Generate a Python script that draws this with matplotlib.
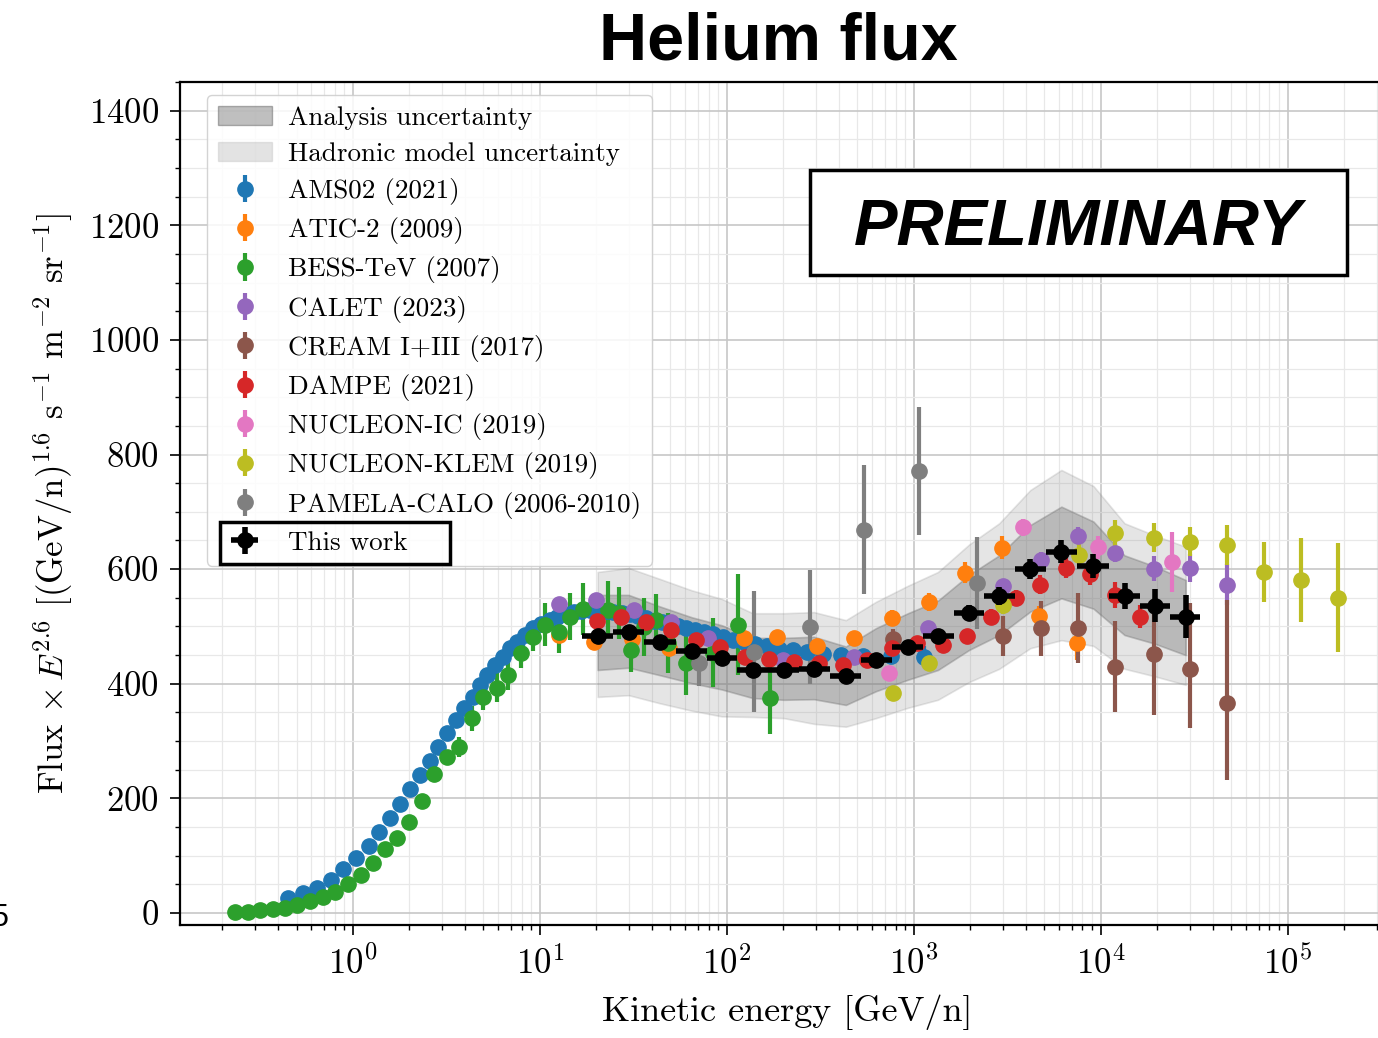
import numpy as np
import matplotlib
matplotlib.use("Agg")
import matplotlib.pyplot as plt
from matplotlib.patches import Patch, Rectangle
from matplotlib.ticker import LogLocator, MultipleLocator, NullFormatter

# ---- data (E in GeV/n, flux x E^2.6) ----
ams_E = [0.450, 0.542, 0.644, 0.766, 0.887, 1.04, 1.22, 1.38, 1.59, 1.79,
         2.03, 2.30, 2.60, 2.86, 3.20, 3.58, 3.95, 4.41, 4.81, 5.24,
         5.79, 6.38, 6.97, 7.59, 8.38, 9.25, 10.2, 11.3, 12.4, 13.7,
         15.2, 16.7, 18.5, 20.4, 22.5, 24.8, 27.4, 30.3, 33.4, 36.8,
         40.7, 44.9, 49.6, 54.7, 60.4, 67.5, 75.4, 84.3, 95.3, 108,
         124, 142, 164, 190, 226, 269, 328, 409, 537, 759, 1140]
ams_F = [26, 35, 44, 58, 77, 96, 117, 141, 166, 190,
         216, 241, 265, 290, 314, 337, 358, 377, 398, 415,
         433, 447, 462, 473, 485, 497, 505, 512, 517, 522,
         525, 527, 528, 528, 527, 526, 524, 521, 518, 514,
         510, 507, 504, 501, 498, 494, 490, 486, 481, 477,
         473, 469, 465, 461, 458, 455, 452, 450, 449, 448, 447]
ams_err = [1, 1, 1, 1, 1, 1, 1, 1, 2, 2,
           2, 2, 2, 2, 3, 3, 3, 3, 3, 3,
           3, 3, 3, 3, 3, 3, 3, 3, 3, 3,
           3, 3, 3, 3, 3, 3, 3, 3, 3, 3,
           3, 3, 4, 4, 4, 4, 4, 4, 5, 5,
           5, 6, 6, 7, 7, 8, 9, 10, 12, 14, 18]

atic_E = [12.6, 19.4, 31.0, 49.0, 124, 185, 304, 480, 767, 1211, 1889, 2980, 4710, 7520]
atic_F = [485, 473, 478, 462, 480, 482, 465, 480, 515, 543, 594, 637, 518, 471]
atic_err = [8, 8, 8, 8, 10, 10, 12, 12, 14, 16, 18, 20, 17, 29]

bess_E = [0.234, 0.275, 0.319, 0.374, 0.434, 0.502, 0.589, 0.691, 0.803, 0.944,
          1.11, 1.285, 1.49, 1.73, 2.00, 2.35, 2.73, 3.20, 3.71, 4.36,
          4.99, 5.93, 6.80, 7.98, 9.25, 10.7, 12.6, 14.6, 17.0, 23.1,
          26.4, 30.6, 36.0, 41.7, 48.3, 60.4, 84.3, 115, 170]
bess_F = [2, 2, 5, 7, 9, 14, 21, 28, 37, 51,
          66, 87, 111, 131, 159, 196, 242, 272, 290, 340,
          377, 393, 415, 453, 482, 503, 491, 517, 530, 529,
          523, 459, 499, 511, 471, 436, 454, 503, 375]
bess_err = [1, 1, 1, 1, 1, 1, 2, 2, 2, 3,
            3, 4, 5, 6, 7, 9, 11, 13, 17, 22,
            23, 25, 26, 26, 25, 38, 38, 41, 45, 50,
            45, 38, 50, 45, 52, 55, 60, 88, 63]

calet_E = [12.7, 19.9, 31.8, 50.2, 79.2, 200, 480, 1197, 3020, 4820, 7600, 12000, 19200, 30000, 47300]
calet_F = [539, 546, 529, 508, 480, 441, 447, 497, 570, 616, 658, 628, 601, 602, 573]
calet_err = [6, 6, 6, 6, 7, 8, 9, 10, 12, 14, 15, 15, 22, 24, 36]

cream_E = [778, 3020, 4820, 7600, 12000, 19200, 30000, 47300]
cream_F = [478, 484, 497, 497, 430, 452, 426, 366]
cream_lo = [18, 35, 48, 61, 80, 106, 103, 134]
cream_hi = [18, 35, 48, 61, 80, 95, 115, 180]

dampe_E = [20.2, 27.1, 36.9, 50.2, 68.4, 91.9, 125, 168, 229, 312, 419, 564,
           768, 1045, 1440, 1935, 2604, 3546, 4764, 6566, 8832, 11880, 16180]
dampe_F = [510, 517, 508, 494, 476, 464, 447, 443, 438, 436, 433, 441,
           462, 471, 468, 483, 517, 550, 573, 602, 592, 555, 517]
dampe_err = [6, 6, 6, 6, 6, 6, 7, 7, 8, 8, 9, 10,
             11, 12, 12, 13, 13, 14, 16, 17, 20, 23, 20]

nic_E = [741, 3860, 9640, 24000]
nic_F = [419, 673, 638, 612]
nic_err = [12, 15, 20, 52]

klem_E = [778, 1211, 3020, 7710, 11880, 19200, 30000, 47300, 74800, 118000, 186000]
klem_F = [384, 436, 538, 625, 663, 655, 648, 642, 595, 581, 550]
klem_err = [12, 14, 16, 20, 23, 25, 25, 35, 52, 73, 95]

pamela_E = [70.9, 140, 279, 543, 1070, 2170]
pamela_F = [436, 456, 499, 669, 771, 576]
pamela_err = [40, 105, 100, 112, 112, 80]

work_E = [20.4, 29.9, 43.8, 65.0, 94.2, 138, 202, 293, 434, 629,
          932, 1349, 1981, 2869, 4209, 6170, 9160, 13430, 19460, 28530]
work_edges = [16.8, 24.7, 36.2, 53.4, 78.2, 114, 167, 243, 357, 522, 766,
              1121, 1635, 2384, 3475, 5096, 7518, 11090, 16170, 23560, 34000]
work_F = [483, 490, 473, 457, 445, 424, 424, 426, 413, 441,
          464, 483, 523, 553, 600, 630, 605, 553, 536, 517]
work_err = [8, 8, 8, 8, 8, 8, 8, 9, 9, 10,
            11, 12, 14, 16, 18, 20, 21, 23, 29, 37]

ana_lo = [424, 428, 415, 401, 390, 375, 372, 373, 363, 387,
          407, 424, 459, 485, 526, 549, 531, 485, 470, 450]
ana_hi = [555, 555, 535, 516, 502, 480, 480, 482, 465, 497,
          523, 545, 590, 624, 677, 709, 683, 624, 605, 581]
had_lo = [377, 380, 366, 353, 343, 342, 340, 330, 325, 340,
          358, 372, 403, 426, 462, 476, 466, 426, 413, 398]
had_hi = [595, 602, 583, 563, 548, 523, 523, 525, 511, 543,
          571, 595, 643, 680, 738, 773, 745, 680, 659, 639]

# ---- style ----
plt.rcParams["font.family"] = "cmr10"
plt.rcParams["mathtext.fontset"] = "cm"
plt.rcParams["axes.formatter.use_mathtext"] = True
plt.rcParams["axes.unicode_minus"] = False

W, H = 1378, 1038
fig = plt.figure(figsize=(W / 100, H / 100), dpi=100)
ax = fig.add_axes([180 / W, 1 - 925 / H, 1215 / W, 843 / H])
ax.set_axisbelow(True)

# uncertainty bands
had = ax.fill_between(work_E, had_lo, had_hi, color="0.5", alpha=0.2, lw=1.2, zorder=2)
ana = ax.fill_between(work_E, ana_lo, ana_hi, color="0.45", alpha=0.38, lw=1.2, zorder=2)


def draw_points(E, F, err, color, label):
    return ax.errorbar(E, F, yerr=err, fmt="o", color=color, ms=11,
                       elinewidth=3, capsize=0, label=label, zorder=3)


h_ams = draw_points(ams_E, ams_F, ams_err, "#1f77b4", "AMS02 (2021)")
h_atic = draw_points(atic_E, atic_F, atic_err, "#ff7f0e", "ATIC-2 (2009)")
h_bess = draw_points(bess_E, bess_F, bess_err, "#2ca02c", "BESS-TeV (2007)")
h_calet = draw_points(calet_E, calet_F, calet_err, "#9467bd", "CALET (2023)")
h_cream = draw_points(cream_E, cream_F, [cream_lo, cream_hi], "#8c564b", "CREAM I+III (2017)")
h_dampe = draw_points(dampe_E, dampe_F, dampe_err, "#d62728", "DAMPE (2021)")
h_nic = draw_points(nic_E, nic_F, nic_err, "#e377c2", "NUCLEON-IC (2019)")
h_klem = draw_points(klem_E, klem_F, klem_err, "#bcbd22", "NUCLEON-KLEM (2019)")
h_pam = draw_points(pamela_E, pamela_F, pamela_err, "#7f7f7f", "PAMELA-CALO (2006-2010)")

work_E_arr = np.array(work_E)
edges = np.array(work_edges)
xerr = [work_E_arr - edges[:-1], edges[1:] - work_E_arr]
h_work = ax.errorbar(work_E, work_F, xerr=xerr, yerr=work_err, fmt="o", color="black",
                     ms=11, elinewidth=4, capsize=0, label="This work", zorder=4)

# axes
ax.set_xscale("log")
ax.set_xlim(0.119, 10 ** 5.575)
ax.set_ylim(-21, 1450)
ax.xaxis.set_major_locator(LogLocator(base=10, numticks=20))
ax.xaxis.set_minor_locator(LogLocator(base=10, subs=np.arange(2, 10), numticks=20))
ax.xaxis.set_minor_formatter(NullFormatter())
ax.yaxis.set_major_locator(MultipleLocator(200))
ax.yaxis.set_minor_locator(MultipleLocator(50))
ax.grid(True, which="major", color="0.78", lw=1.2)
ax.grid(True, which="minor", color="0.91", lw=0.9)
ax.tick_params(which="major", length=7, width=1.2, labelsize=25, pad=8, direction="out")
ax.tick_params(which="minor", length=3.5, width=1.0, direction="out")
for s in ax.spines.values():
    s.set_linewidth(1.6)

ax.set_xlabel("Kinetic energy [GeV/n]", fontsize=26, labelpad=10)
ax.set_ylabel(r"Flux $\times\,E^{2.6}$ [(GeV/n)$^{1.6}$ s$^{-1}$ m$^{-2}$ sr$^{-1}$]",
              fontsize=25, labelpad=10)

handles = [Patch(facecolor="0.5", alpha=0.5, edgecolor="0.4"),
           Patch(facecolor="0.5", alpha=0.22, edgecolor="0.6"),
           h_ams, h_atic, h_bess, h_calet, h_cream, h_dampe, h_nic, h_klem, h_pam, h_work]
labels = ["Analysis uncertainty", "Hadronic model uncertainty",
          "AMS02 (2021)", "ATIC-2 (2009)", "BESS-TeV (2007)", "CALET (2023)",
          "CREAM I+III (2017)", "DAMPE (2021)", "NUCLEON-IC (2019)",
          "NUCLEON-KLEM (2019)", "PAMELA-CALO (2006-2010)", "This work"]
leg = ax.legend(handles, labels, loc="upper left", bbox_to_anchor=(0.0222, 0.9846),
                borderaxespad=0, fontsize=19.5, labelspacing=0.45, handletextpad=0.6,
                framealpha=0.85, edgecolor="0.8")

# PRELIMINARY box
ax.add_patch(Rectangle((0.5185, 0.771), 0.442, 0.1246, transform=ax.transAxes,
                       facecolor="white", edgecolor="black", lw=2.5, zorder=6))
ax.text(0.7395, 0.827, "PRELIMINARY", transform=ax.transAxes, ha="center", va="center",
        family="Liberation Sans", weight="bold", style="italic", fontsize=47, zorder=7)

fig.text(778 / W, 1 - 42 / H, "Helium flux", ha="center", va="center",
         family="Liberation Sans", weight="bold", fontsize=48)
fig.text(0.0, 1 - 918 / H, "5", ha="center", va="center", family="Liberation Sans", fontsize=22)

# box around the "This work" legend entry
fig.canvas.draw()
bb_t = leg.get_texts()[-1].get_window_extent()
bb_f = leg.get_frame().get_window_extent()
inv = ax.transAxes.inverted()
(x0, y0) = inv.transform((bb_f.x0 + 13, bb_t.y0 - 9))
(x1, y1) = inv.transform((bb_t.x1 + 42, bb_t.y1 + 9))
ax.add_patch(Rectangle((x0, y0), x1 - x0, y1 - y0, transform=ax.transAxes, fill=False,
                       edgecolor="black", lw=2.5, zorder=8, clip_on=False))

fig.savefig("out.png", dpi=100)
